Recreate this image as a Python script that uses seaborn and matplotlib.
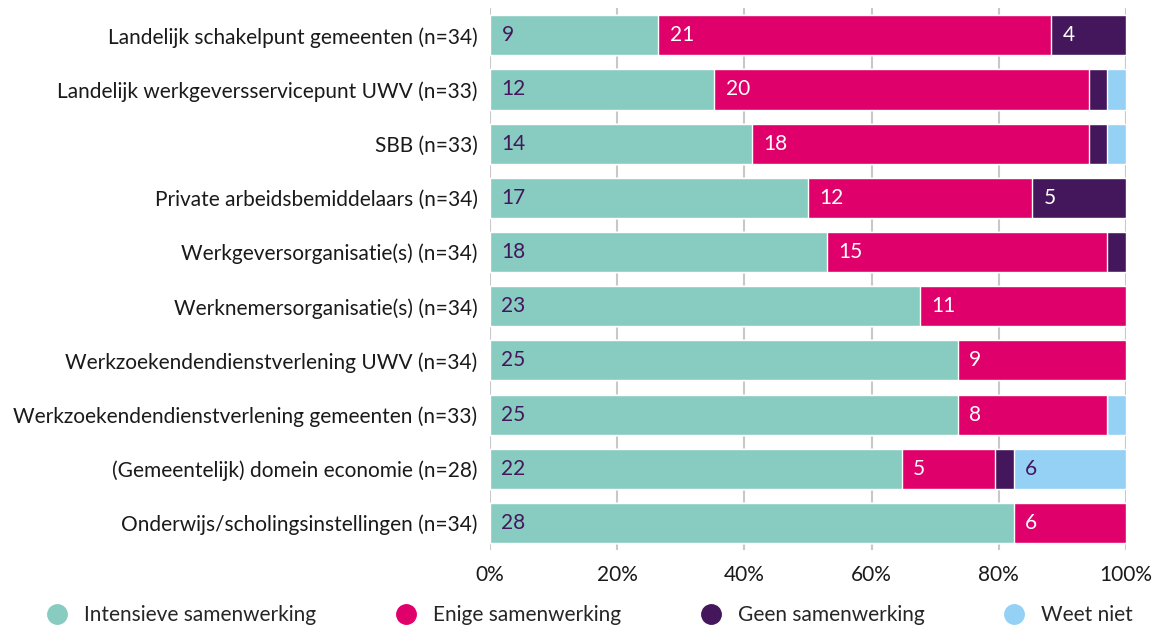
import numpy as np
import pandas as pd
import seaborn as sns
from matplotlib import pyplot as plt
from matplotlib.lines import Line2D

categories = [
    "Landelijk schakelpunt gemeenten (n=34)",
    "Landelijk werkgeversservicepunt UWV (n=33)",
    "SBB (n=33)",
    "Private arbeidsbemiddelaars (n=34)",
    "Werkgeversorganisatie(s) (n=34)",
    "Werknemersorganisatie(s) (n=34)",
    "Werkzoekendendienstverlening UWV (n=34)",
    "Werkzoekendendienstverlening gemeenten (n=33)",
    "(Gemeentelijk) domein economie (n=28)",
    "Onderwijs/scholingsinstellingen (n=34)",
]
series = ["Intensieve samenwerking", "Enige samenwerking", "Geen samenwerking", "Weet niet"]
intensief = [9, 12, 14, 17, 18, 23, 25, 25, 22, 28]
enige = [21, 20, 18, 12, 15, 11, 9, 8, 5, 6]
geen = [4, 1, 1, 5, 1, 0, 0, 0, 1, 0]
weet_niet = [0, 1, 1, 0, 0, 0, 0, 1, 6, 0]
xticks = [0, 0.2, 0.4, 0.6, 0.8, 1.0]
xticklabels = ["0%", "20%", "40%", "60%", "80%", "100%"]

colors = ["#88ccc1", "#e0006b", "#44175c", "#94d1f4"]
label_colors = ["#44175c", "white", "white", "#44175c"]

counts = np.array([intensief, enige, geen, weet_niet], dtype=float)
pct = counts / counts.sum(axis=0)
cum = np.cumsum(pct, axis=0)

sns.set_style("white")
plt.rcParams["font.family"] = ["Lato", "DejaVu Sans"]
fs = 15

fig = plt.figure(figsize=(11.59, 6.28), dpi=100)
ax = fig.add_axes([0.4228, 0.124, 0.5487, 0.863])

# draw cumulative bars back to front so they stack
for i in range(3, -1, -1):
    df = pd.DataFrame({"cat": categories, "val": cum[i]})
    sns.barplot(data=df, x="val", y="cat", color=colors[i], width=0.74,
                saturation=1, ax=ax, zorder=2)

for r in range(len(categories)):
    for i in range(4):
        if counts[i, r] >= 2:
            left = cum[i, r] - pct[i, r]
            ax.text(left + 0.018, r, f"{int(counts[i, r])}", va="center", ha="left",
                    color=label_colors[i], fontsize=fs, zorder=3)

ax.set_xlim(0, 1)
ax.set_ylim(9.5, -0.5)
ax.set_xticks(xticks)
ax.set_xticklabels(xticklabels)
ax.set_xlabel("")
ax.set_ylabel("")
ax.grid(axis="x", color="#c8c8c8", lw=1.5, zorder=0)
ax.set_axisbelow(True)
for s in ax.spines.values():
    s.set_visible(False)
ax.tick_params(axis="y", length=0, pad=9, labelcolor="#1a1a1a", labelsize=fs)
ax.tick_params(axis="x", length=0, pad=11, labelcolor="#1a1a1a", labelsize=fs)

handles = [Line2D([0], [0], marker="o", color="none", markerfacecolor=c,
                  markeredgecolor=c, markersize=14) for c in colors]
fig.legend(handles, series, loc="center", bbox_to_anchor=(0.508, 0.02), ncol=4,
           frameon=False, fontsize=fs, columnspacing=3.7, handletextpad=0.7,
           handlelength=1.2, borderpad=0.0)

fig.savefig("out.png", dpi=100)
